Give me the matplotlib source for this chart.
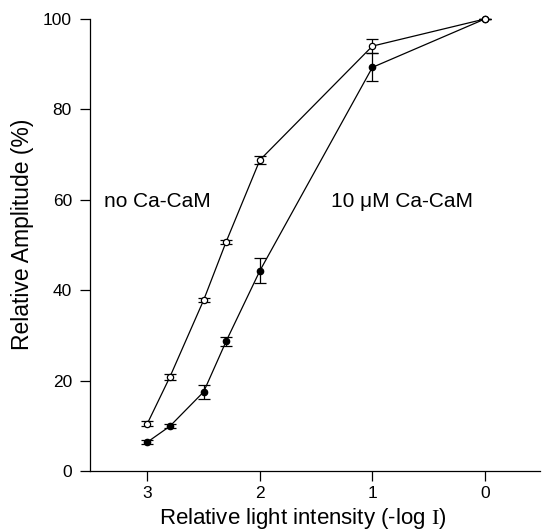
import matplotlib
matplotlib.use("Agg")
import matplotlib.pyplot as plt

plt.rcParams['font.family'] = ['Liberation Sans', 'DejaVu Sans']
plt.rcParams['mathtext.fontset'] = 'custom'
plt.rcParams['mathtext.rm'] = 'Liberation Serif'

x = [3, 2.8, 2.5, 2.3, 2, 1, 0]
no_cacam = [10.5, 20.8, 37.8, 50.7, 68.8, 94.0, 100]
no_cacam_err = [0.5, 0.7, 0.5, 0.5, 0.8, 1.5, 0]
with_cacam = [6.4, 9.9, 17.5, 28.7, 44.3, 89.3, 100]
with_cacam_err = [0.4, 0.4, 1.5, 1.0, 2.8, 3.1, 0]

xticks = [3, 2, 1, 0]
yticks = [0, 20, 40, 60, 80, 100]

fig = plt.figure(figsize=(5.42, 5.31), dpi=100)
ax = fig.add_axes([90/542, 1-471/531, (540-90)/542, (471-19)/531])

ax.errorbar(x, with_cacam, yerr=with_cacam_err, color='black', lw=0.9,
            marker='o', ms=4.5, mfc='black', mec='black', capsize=4,
            elinewidth=0.9, capthick=0.9, clip_on=False, zorder=3)
ax.errorbar(x, no_cacam, yerr=no_cacam_err, color='black', lw=0.9,
            marker='o', ms=4.5, mfc='white', mec='black', mew=0.9, capsize=4,
            elinewidth=0.9, capthick=0.9, clip_on=False, zorder=4)

ax.set_xlim(3.51, -0.49)
ax.set_ylim(0, 100)
ax.set_xticks(xticks)
ax.set_yticks(yticks)
ax.tick_params(labelsize=12.5, length=7, width=0.9, direction='out')
ax.tick_params(axis='y', pad=6)
ax.tick_params(axis='x', pad=4)
for s in ['top', 'right']:
    ax.spines[s].set_visible(False)
for s in ['left', 'bottom']:
    ax.spines[s].set_linewidth(0.9)

ax.set_xlabel(r'Relative light intensity (-log $\mathrm{I}$)', fontsize=16)
ax.set_ylabel('Relative Amplitude (%)', fontsize=16.5)
ax.xaxis.set_label_coords(0.473, -0.078)
ax.yaxis.set_label_coords(-0.125, 0.523)

ax.text(3.385, 59.7, 'no Ca-CaM', fontsize=15, ha='left', va='center')
ax.text(1.364, 59.7, '10 μM Ca-CaM', fontsize=15, ha='left', va='center')

fig.savefig('out.png', dpi=100)
